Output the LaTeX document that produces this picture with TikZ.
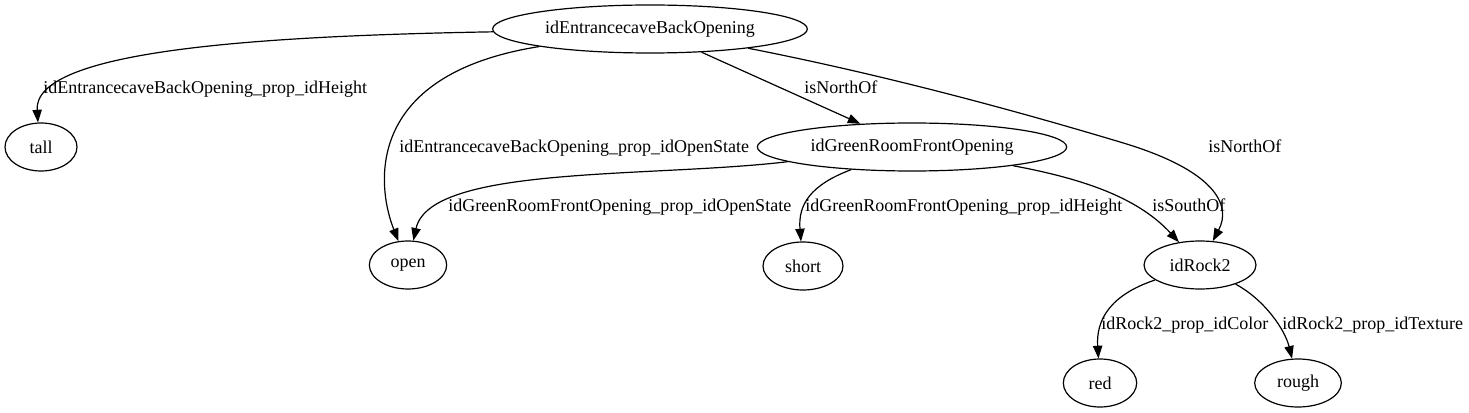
\documentclass[tikz,border=0pt]{standalone}
\usepackage{fontspec}
\setmainfont{Liberation Serif}
\usetikzlibrary{arrows.meta,shapes.geometric}

\begin{document}
\begin{tikzpicture}[x=0.75pt, y=-0.75pt, >={Triangle[length=9.5pt,width=7pt]},
    font=\fontsize{13.5}{16}\selectfont,
    nd/.style={ellipse, draw, line width=0.9pt, minimum height=36pt, inner sep=0pt},
    lab/.style={anchor=west, inner sep=0pt, text height=9.5pt, text depth=3pt},
    edge/.style={->, line width=0.9pt}]
  \useasboundingbox (0,0) rectangle (1469,413);
  % rank 0
  \node[nd, minimum width=236pt] (entr)  at (650,29)   {idEntrancecaveBackOpening};
  % rank 1
  \node[nd, minimum width=54pt]  (tall)  at (41,147)   {tall};
  \node[nd, minimum width=232pt] (green) at (912,147)  {idGreenRoomFrontOpening};
  % rank 2
  \node[nd, minimum width=58pt]  (open)  at (408,265)  {open};
  \node[nd, minimum width=60pt]  (short) at (803,266)  {short};
  \node[nd, minimum width=84pt]  (rock)  at (1200,265) {idRock2};
  % rank 3
  \node[nd, minimum width=55pt]  (red)   at (1100,383) {red};
  \node[nd, minimum width=65pt]  (rough) at (1298,383) {rough};

  % edges
  \draw[edge] (entr) .. controls (260,36) and (33,50) .. (tall.97);
  \draw[edge] (entr) .. controls (360,75) and (378,190) .. (open);
  \draw[edge] (entr) -- (green);
  \draw[edge] (entr) .. controls (900,78) and (1040,118) .. (1120,142)
        .. controls (1215,170) and (1232,205) .. (rock);
  \draw[edge] (green) .. controls (650,178) and (430,165) .. (open);
  \draw[edge] (green) .. controls (810,185) and (798,205) .. (short);
  \draw[edge] (green) .. controls (1090,180) and (1140,200) .. (rock);
  \draw[edge] (rock) .. controls (1110,295) and (1096,320) .. (red);
  \draw[edge] (rock) .. controls (1265,300) and (1285,330) .. (rough);

  % labels
  \node[lab] (l-tall)  at (43,89)   {idEntrancecaveBackOpening\_prop\_idHeight};
  \node[lab] (l-eopen) at (399,148) {idEntrancecaveBackOpening\_prop\_idOpenState};
  \node[lab] (l-north) at (804,89)  {isNorthOf};
  \node[lab] (l-rockn) at (1208,148) {isNorthOf};
  \node[lab] (l-gopen) at (448,207) {idGreenRoomFrontOpening\_prop\_idOpenState};
  \node[lab] (l-short) at (805,207) {idGreenRoomFrontOpening\_prop\_idHeight};
  \node[lab] (l-south) at (1152,207) {isSouthOf};
  \node[lab] (l-red)   at (1101,325) {idRock2\_prop\_idColor};
  \node[lab] (l-rough) at (1282,325) {idRock2\_prop\_idTexture};
\end{tikzpicture}
\end{document}
